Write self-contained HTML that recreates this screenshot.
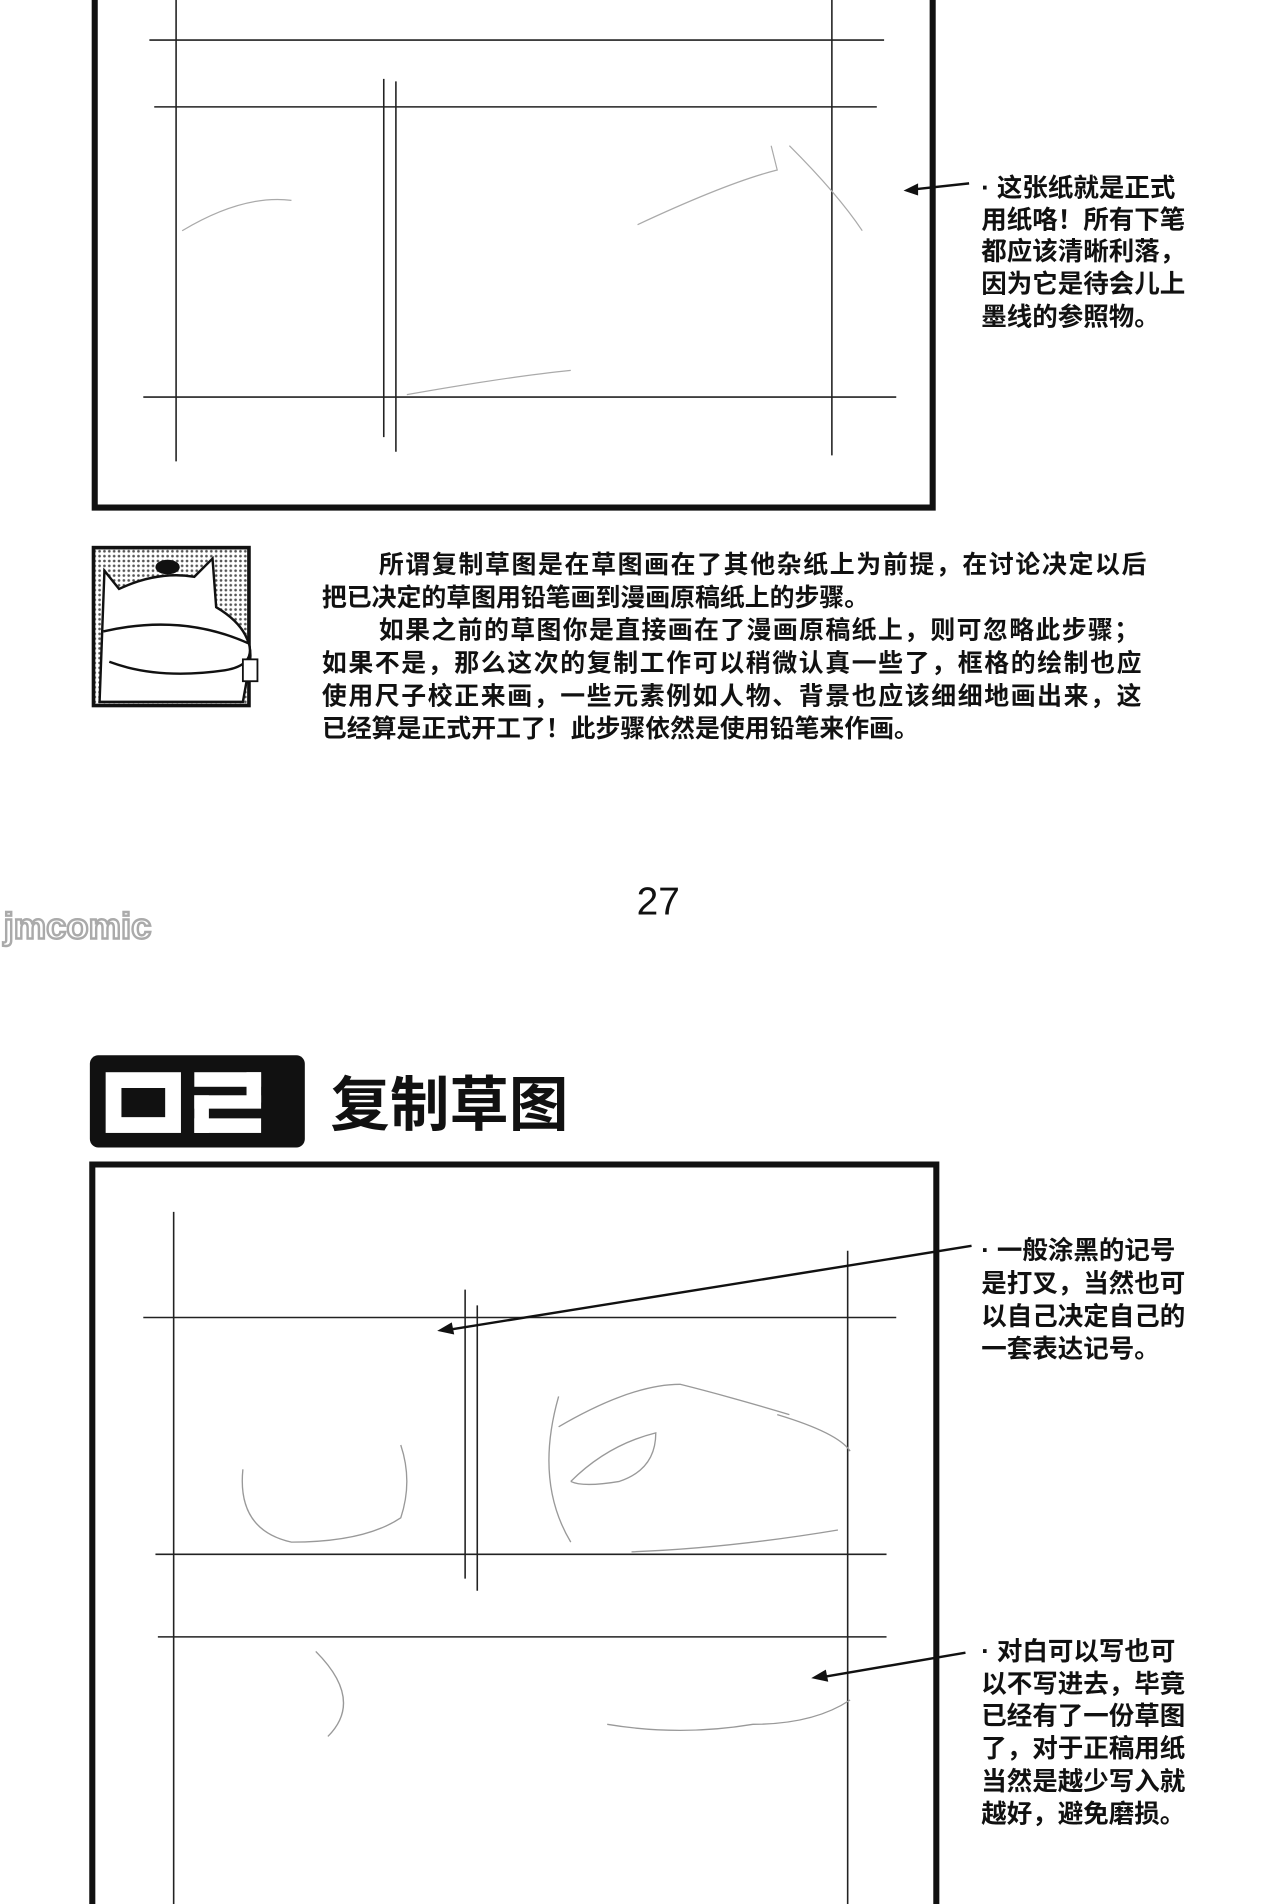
<!DOCTYPE html>
<html><head><meta charset="utf-8">
<style>
html,body{margin:0;padding:0;background:#fff;}
svg{display:block;}
text{font-family:"Liberation Sans","Noto Sans CJK SC",sans-serif;fill:#111;}
</style></head>
<body>
<svg width="1280" height="1904" viewBox="0 0 1054 1568" preserveAspectRatio="none" xmlns="http://www.w3.org/2000/svg">
<defs>
<pattern id="dots" width="4" height="4" patternUnits="userSpaceOnUse">
<rect width="4" height="4" fill="#fff"/><circle cx="2" cy="2" r="1.1" fill="#555"/>
</pattern>
</defs>
<rect width="1054" height="1568" fill="#fff"/>

<!-- top frame -->
<path d="M78 -5 V418 H768 V-5" fill="none" stroke="#111" stroke-width="5"/>
<g stroke="#222" stroke-width="1.3">
<line x1="123" y1="33" x2="728" y2="33"/>
<line x1="127" y1="88" x2="722" y2="88"/>
<line x1="118" y1="327" x2="738" y2="327"/>
<line x1="145" y1="0" x2="145" y2="380"/>
<line x1="316" y1="65" x2="316" y2="360"/>
<line x1="326" y1="67" x2="326" y2="372"/>
<line x1="685" y1="0" x2="685" y2="375"/>
</g>
<g stroke="#aaa" stroke-width="1" fill="none">
<path d="M150 190 Q200 160 240 165"/>
<path d="M525 185 Q600 150 640 140 L635 120 M650 120 Q690 160 710 190"/>
<path d="M335 325 Q420 310 470 305"/>
</g>

<!-- annotation 1 -->
<line x1="798" y1="151" x2="752" y2="156" stroke="#111" stroke-width="2"/>
<polygon points="744,157 756,151 756,161" fill="#111"/>
<g font-size="21" font-weight="bold">
<text x="808" y="162">· 这张纸就是正式</text>
<text x="808" y="188">用纸咯！所有下笔</text>
<text x="808" y="214">都应该清晰利落，</text>
<text x="808" y="241">因为它是待会儿上</text>
<text x="808" y="268">墨线的参照物。</text>
</g>

<!-- character box -->
<rect x="77" y="451" width="128" height="130" fill="url(#dots)" stroke="#111" stroke-width="3"/>
<path d="M82 578 L86 470 L98 485 Q130 470 160 475 L175 460 L178 500 Q212 520 205 550 L200 578 Z" fill="#fff" stroke="#111" stroke-width="2"/>
<ellipse cx="138" cy="467" rx="10" ry="6" fill="#111"/>
<path d="M85 520 Q150 505 205 530 Q210 548 185 552 Q130 560 90 545" fill="#fff" stroke="#111" stroke-width="2"/>
<rect x="200" y="543" width="12" height="18" fill="#fff" stroke="#111" stroke-width="1.5"/>

<!-- paragraph -->
<g font-size="20.5" font-weight="bold">
<text x="312" y="472" textLength="632">所谓复制草图是在草图画在了其他杂纸上为前提，在讨论决定以后</text>
<text x="265" y="499">把已决定的草图用铅笔画到漫画原稿纸上的步骤。</text>
<text x="312" y="526" textLength="626">如果之前的草图你是直接画在了漫画原稿纸上，则可忽略此步骤；</text>
<text x="265" y="553" textLength="675">如果不是，那么这次的复制工作可以稍微认真一些了，框格的绘制也应</text>
<text x="265" y="580" textLength="675">使用尺子校正来画，一些元素例如人物、背景也应该细细地画出来，这</text>
<text x="265" y="607">已经算是正式开工了！此步骤依然是使用铅笔来作画。</text>
</g>

<!-- page number & watermark -->
<text x="542" y="753" font-size="32" text-anchor="middle" font-weight="500">27</text>
<text x="3" y="773" font-size="30" font-weight="bold" style="fill:#fff;stroke:#aaa;stroke-width:2">jmcomic</text>

<!-- heading -->
<rect x="74" y="869" width="177" height="76" rx="7" fill="#111"/>
<rect x="87" y="883" width="62" height="50" fill="#fff"/>
<rect x="100" y="896" width="36" height="24" fill="#111"/>
<g fill="#fff">
<rect x="160" y="883" width="55" height="12"/>
<rect x="203" y="883" width="12" height="25"/>
<rect x="160" y="902" width="55" height="11"/>
<rect x="160" y="902" width="12" height="31"/>
<rect x="160" y="921" width="55" height="12"/>
</g>
<text x="272" y="927" font-size="49" font-weight="bold" textLength="196">复制草图</text>

<!-- bottom frame -->
<path d="M76 1575 V959 H771 V1575" fill="none" stroke="#111" stroke-width="5"/>
<g stroke="#222" stroke-width="1.3">
<line x1="118" y1="1085" x2="738" y2="1085"/>
<line x1="128" y1="1280" x2="730" y2="1280"/>
<line x1="130" y1="1348" x2="730" y2="1348"/>
<line x1="143" y1="998" x2="143" y2="1568"/>
<line x1="383" y1="1062" x2="383" y2="1300"/>
<line x1="393" y1="1075" x2="393" y2="1310"/>
<line x1="698" y1="1030" x2="698" y2="1568"/>
</g>
<g stroke="#999" stroke-width="1.1" fill="none">
<path d="M460 1175 Q520 1140 560 1140 Q600 1150 650 1165"/>
<path d="M460 1150 Q440 1220 470 1270"/>
<path d="M470 1220 Q500 1190 540 1180 Q540 1210 510 1220 Q480 1225 470 1220"/>
<path d="M640 1165 Q690 1180 700 1195"/>
<path d="M520 1278 Q600 1275 690 1260"/>
<path d="M200 1210 Q195 1260 240 1270 Q300 1270 330 1250 Q340 1220 330 1190"/>
<path d="M500 1420 Q560 1430 620 1420 Q670 1420 700 1400"/>
<path d="M260 1360 Q300 1400 270 1430"/>
</g>

<!-- annotation 2 -->
<line x1="800" y1="1026" x2="370" y2="1095" stroke="#111" stroke-width="2"/>
<polygon points="360,1096 372,1089 374,1099" fill="#111"/>
<g font-size="21" font-weight="bold">
<text x="808" y="1037">· 一般涂黑的记号</text>
<text x="808" y="1064">是打叉，当然也可</text>
<text x="808" y="1091">以自己决定自己的</text>
<text x="808" y="1118">一套表达记号。</text>
</g>

<!-- annotation 3 -->
<line x1="795" y1="1361" x2="678" y2="1381" stroke="#111" stroke-width="2"/>
<polygon points="668,1382 680,1375 682,1385" fill="#111"/>
<g font-size="21" font-weight="bold">
<text x="808" y="1367">· 对白可以写也可</text>
<text x="808" y="1394">以不写进去，毕竟</text>
<text x="808" y="1420">已经有了一份草图</text>
<text x="808" y="1447">了，对于正稿用纸</text>
<text x="808" y="1474">当然是越少写入就</text>
<text x="808" y="1501">越好，避免磨损。</text>
</g>
</svg>
</body></html>
